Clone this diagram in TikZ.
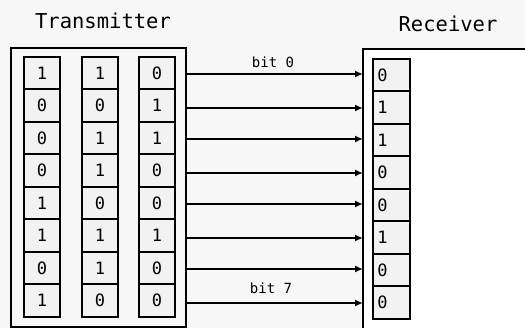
\documentclass[tikz,border=0pt]{standalone}
\usepackage{fontspec}
\newfontfamily\pixfont{DejaVu Sans Mono}
\usetikzlibrary{arrows.meta}
\tikzset{
  bitcell/.style={draw=black, line width=1.8pt, fill=gray!10, minimum width=36pt, minimum height=32.5pt, inner sep=0pt, font=\pixfont\fontsize{17}{17}\selectfont, anchor=north west},
  outerbox/.style={draw=black, line width=1.8pt},
  title/.style={font=\pixfont\fontsize{20.5}{20.5}\selectfont, inner sep=0pt},
  bitlabel/.style={font=\pixfont\fontsize{14}{14}\selectfont, inner sep=0pt},
  wire/.style={line width=1.8pt, -{Latex[length=8pt,width=7pt]}}
}
\begin{document}
\begin{tikzpicture}[x=1pt,y=-1pt]
\useasboundingbox (0,0) rectangle (525,328);
\fill[gray!6] (0,0) rectangle (525,328);
% titles
\node[title] (ttx) at (103,21) {Transmitter};
\node[title] (trx) at (448,24) {Receiver};
% transmitter box
\node[outerbox, fill=gray!6, minimum width=175pt, minimum height=279pt, inner sep=0pt, anchor=north west] (tx) at (10,47) {};
% receiver box (open to the right and bottom)
\fill[white] (363,49) rectangle (526,329);
\draw[outerbox] (363,330) -- (363,49) -- (526,49);
\coordinate (rxleft) at (363,49);
% transmitter cells
\foreach \c/\x/\bits in {1/23/{1,0,0,0,1,1,0,1}, 2/81/{1,0,1,1,0,1,1,0}, 3/138/{0,1,1,0,0,1,0,0}}{
  \foreach \b [count=\r from 0] in \bits {
    \node[bitcell] (t\c r\r) at (\x,{56+32.5*\r}) {\b};
  }
}
% receiver cells
\foreach \b [count=\r from 0] in {0,1,1,0,0,1,0,0} {
  \node[bitcell, text width=28pt, align=left, inner xsep=4pt, minimum width=37pt] (rr\r) at (372,{58+32.5*\r}) {\b};
}
% wires
\foreach \r/\y in {0/74,1/108,2/139,3/173,4/204,5/238,6/269,7/303} {
  \coordinate (ws\r) at (tx.east |- 0,\y);
  \coordinate (we\r) at (rxleft |- 0,\y);
  \draw[wire] (ws\r) -- (we\r);
}
\node[bitlabel] (b0) at (273,62) {bit 0};
\node[bitlabel] (b7) at (271,288) {bit 7};
\end{tikzpicture}
\end{document}
